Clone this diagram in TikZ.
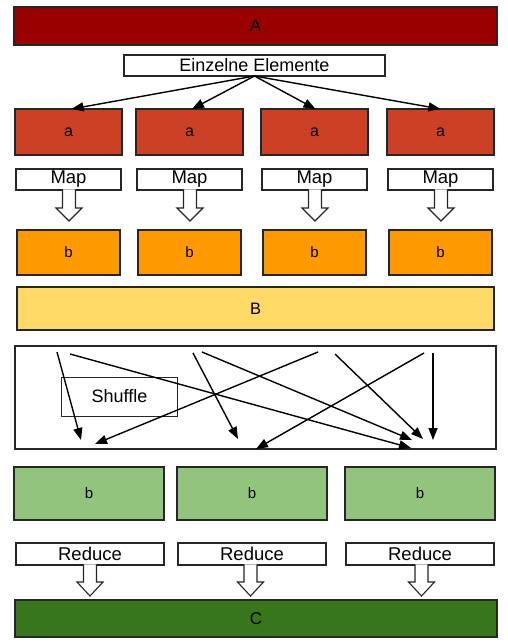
\documentclass[tikz,border=0pt]{standalone}
\usepackage{fontspec}
\setmainfont{Liberation Sans}
\usetikzlibrary{calc,arrows.meta}
\definecolor{cA}{HTML}{990000}
\definecolor{ca}{HTML}{CC4125}
\definecolor{cb}{HTML}{FF9900}
\definecolor{cB}{HTML}{FFD966}
\definecolor{cg}{HTML}{93C47D}
\definecolor{cC}{HTML}{38761D}
\newcommand{\fs}[1]{\fontsize{#1}{#1}\selectfont}
% #1 node, #2 dx, #3 shaft half width, #4 head half width, #5 shaft length, #6 tip depth
\newcommand{\callarrow}[6]{%
  \filldraw[callline]
    ($(#1.south)+(#2-#3,-0.6)$) -- ($(#1.south)+(#2-#3,#5)$) -- ($(#1.south)+(#2-#4,#5)$)
    -- ($(#1.south)+(#2,#6)$)
    -- ($(#1.south)+(#2+#4,#5)$) -- ($(#1.south)+(#2+#3,#5)$) -- ($(#1.south)+(#2+#3,-0.6)$);
}
\begin{document}
\begin{tikzpicture}[x=1pt,y=-1pt,
  blk/.style={draw=black!85,line width=1.1pt,inner sep=0pt,outer sep=0pt},
  callbox/.style={blk,fill=white,font=\fs{18.5}},
  callline/.style={draw=black!85,fill=white,line width=1.1pt,line join=miter},
  flow/.style={draw=black,line width=1.4pt,-{Triangle[length=12pt,width=9pt]}}]
\useasboundingbox (0,0) rectangle (508,643);

% top
\node[blk,fill=cA,minimum width=483,minimum height=38,font=\fs{17}] (A) at (255.5,26) {A};
\node[blk,fill=white,minimum width=261,minimum height=21,font=\fs{18}] (E) at (254.5,65.5) {Einzelne Elemente};

% a boxes
\foreach \n/\x in {1/68.5,2/189.5,3/314.5,4/440.5}{
  \node[blk,fill=ca,minimum width=107,minimum height=46,font=\fs{16}] (a\n) at (\x,132) {a};
}
\draw[flow] (E.south) -- ($(a1.north)+(3,0)$);
\draw[flow] (E.south) -- ($(a2.north)+(2.5,0)$);
\draw[flow] (E.south) -- ($(a3.north)+(1,0)$);
\draw[flow] (E.south) -- (a4.north);

% Map callouts
\foreach \n/\x in {1/68.5,2/189.5,3/314.5,4/440.5}{
  \node[callbox,minimum width=105,minimum height=21] (m\n) at (\x,179.5) {Map};
  \callarrow{m\n}{0.5}{6.5}{13}{18}{31}
}

% orange b boxes
\foreach \n/\x in {1/68.5,2/189.5,3/314.5,4/440.5}{
  \node[blk,fill=cb,minimum width=103,minimum height=45,font=\fs{15}] (b\n) at (\x,252.5) {b};
}

% B
\node[blk,fill=cB,minimum width=477,minimum height=43,font=\fs{16.5}] (B) at (255.5,308.5) {B};

% Shuffle
\node[blk,fill=white,minimum width=481,minimum height=103] (S) at (255.5,397.5) {};
\node[draw=black!85,line width=0.7pt,inner sep=0pt,minimum width=116,minimum height=39,font=\fs{18}] (SL) at (119.5,396.5) {Shuffle};

\coordinate (s1) at (57,352);  \coordinate (t1) at (81,440);
\coordinate (s2) at (70,354);  \coordinate (t2) at (411,448);
\coordinate (s3) at (193,353); \coordinate (t3) at (238,439);
\coordinate (s4) at (202,352); \coordinate (t4) at (412,440);
\coordinate (s5) at (318,352); \coordinate (t5) at (95,444);
\coordinate (s6) at (335,354); \coordinate (t6) at (423,439);
\coordinate (s7) at (424,353); \coordinate (t7) at (256,449);
\coordinate (s8) at (433,353); \coordinate (t8) at (433,440);
\foreach \i in {1,...,8}{\draw[flow] (s\i) -- (t\i);}

% green b boxes
\foreach \n/\x in {1/89,2/252,3/420}{
  \node[blk,fill=cg,minimum width=150,minimum height=53,font=\fs{15}] (g\n) at (\x,493.5) {b};
}

% Reduce callouts
\foreach \n/\x/\d in {1/90/0,2/252/-1.5,3/420/1.5}{
  \node[callbox,minimum width=148,minimum height=22] (r\n) at (\x,554) {Reduce};
  \callarrow{r\n}{\d}{6.5}{13}{17}{31}
}

% C
\node[blk,fill=cC,minimum width=482,minimum height=37,font=\fs{17}] (C) at (256,618.5) {C};
\end{tikzpicture}
\end{document}
